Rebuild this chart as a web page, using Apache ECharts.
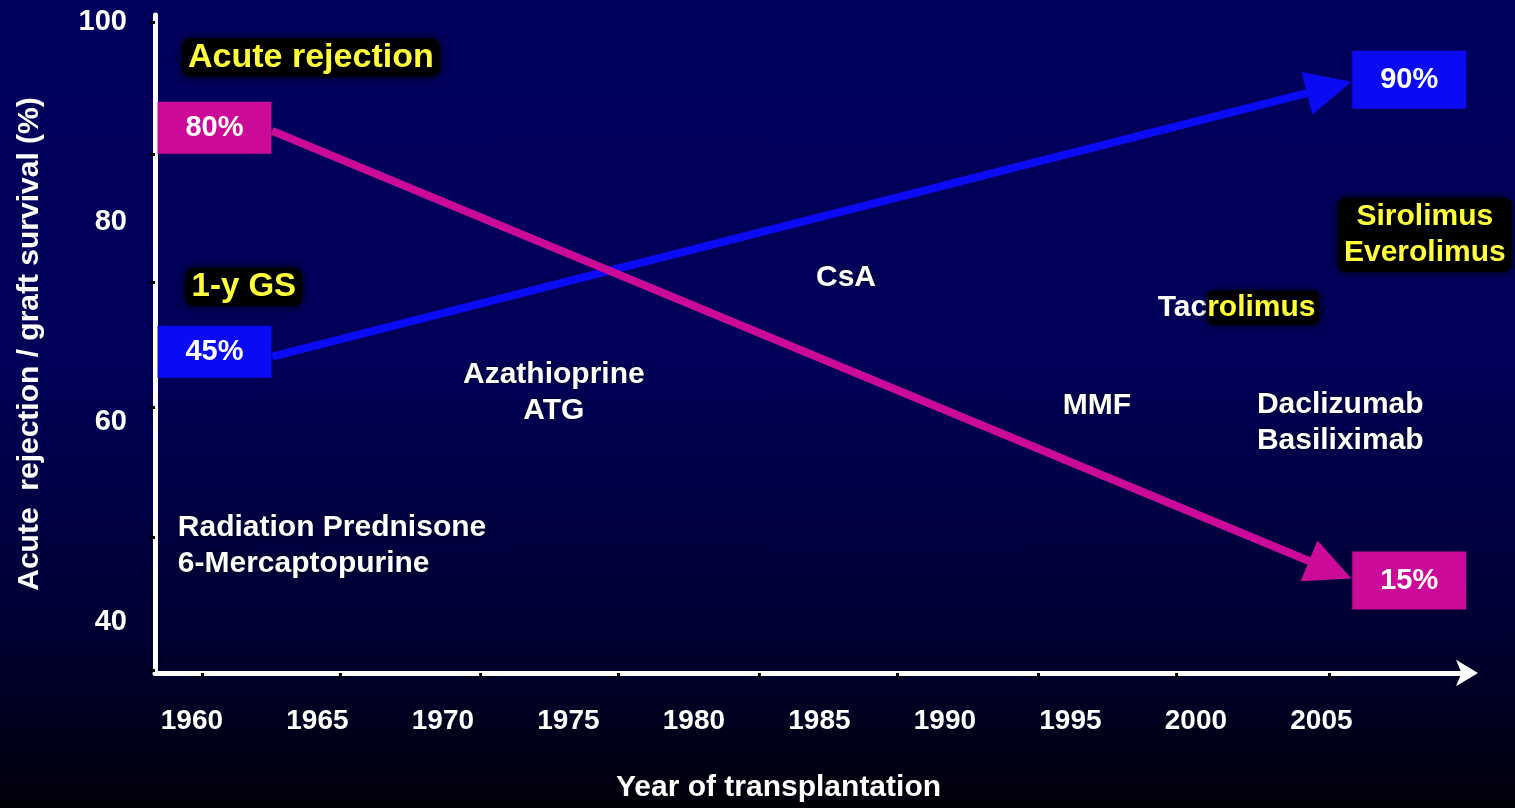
<!DOCTYPE html>
<html>
<head>
<meta charset="utf-8">
<title>Acute rejection / graft survival</title>
<script src="https://cdn.jsdelivr.net/npm/echarts@6/dist/echarts.min.js"></script>
<style>
  html, body { margin: 0; padding: 0; }
  body {
    width: 1515px; height: 808px; overflow: hidden;
    background: linear-gradient(to bottom, #00005e 0%, #000058 45%, #000030 80%, #00000a 100%);
  }
  #main { width: 1515px; height: 808px; }
</style>
</head>
<body>
<div id="main"></div>
<script>
// axis labels / ticks
var yearLabels = [1960, 1965, 1970, 1975, 1980, 1985, 1990, 1995, 2000, 2005];
var yearTicks = [1960.4, 1965.9, 1971.5, 1977.0, 1982.6, 1988.1, 1993.7, 1999.2, 2005.3];
var valueLabels = [40, 60, 80, 100];
var valueTicks = [35.1, 48.4, 61.4, 73.9, 86.8, 100];

// trend arrows: [fromYear, fromValue, toYear, toValue]
var rejectionArrow = [1963.2, 89.1, 2006.2, 44.3];
var survivalArrow = [1963.2, 66.5, 2006.2, 94.0];

// value boxes at both ends
var boxNames = ['80%', '45%', '90%', '15%'];
var boxYears = [1960.9, 1960.9, 2008.5, 2008.5];
var boxValues = [89.4, 67.0, 94.2, 44.1];
var boxColors = ['#cc0a99', '#0a0af5', '#0a0af5', '#cc0a99'];
var boxHeights = [52, 52, 58, 58];

// drug annotations
var drugNames = ['Radiation Prednisone\n6-Mercaptopurine', 'Azathioprine\nATG', 'CsA', 'MMF',
  'Daclizumab\nBasiliximab'];
var drugYears = [1959.44, 1974.42, 1986.06, 1996.06, 2002.43];
var drugValues = [47.6, 62.9, 74.4, 61.6, 59.85];
var drugAlign = ['left', 'center', 'center', 'center', 'left'];

// yellow highlighted titles
var hlNames = ['Acute rejection', '1-y GS', 'Sirolimus\nEverolimus'];
var hlYears = [1964.74, 1962.07, 2009.12];
var hlValues = [96.44, 73.47, 78.7];
var hlSizes = [34, 33, 30];

var tacYear = 2001.7, tacValue = 71.4;

var FONT = '"Liberation Sans", Arial, sans-serif';

var myChart = echarts.init(document.getElementById('main'));

function arrowItem(params, api) {
  var p0 = api.coord([api.value(0), api.value(1)]);
  var p1 = api.coord([api.value(2), api.value(3)]);
  var dx = p1[0] - p0[0], dy = p1[1] - p0[1];
  var len = Math.sqrt(dx * dx + dy * dy);
  var ux = dx / len, uy = dy / len;
  var headLen = 46, headW = 44;
  var bx = p1[0] - ux * headLen, by = p1[1] - uy * headLen;
  var color = api.visual('color');
  return {
    type: 'group',
    children: [
      {
        type: 'line',
        shape: { x1: p0[0], y1: p0[1], x2: bx + ux * 4, y2: by + uy * 4 },
        style: { stroke: color, lineWidth: 8 }
      },
      {
        type: 'polygon',
        shape: {
          points: [
            [p1[0], p1[1]],
            [bx - uy * headW / 2, by + ux * headW / 2],
            [bx + uy * headW / 2, by - ux * headW / 2]
          ]
        },
        style: { fill: color }
      }
    ]
  };
}

var boxData = boxNames.map(function (n, i) {
  return {
    name: n,
    value: [boxYears[i], boxValues[i]],
    symbolSize: [114, boxHeights[i]],
    itemStyle: { color: boxColors[i], opacity: 1 }
  };
});

var drugData = drugNames.map(function (n, i) {
  var left = drugAlign[i] === 'left';
  return {
    name: n,
    value: [drugYears[i], drugValues[i]],
    label: { position: left ? 'right' : 'inside', distance: 0, align: drugAlign[i] }
  };
});

var hlData = hlNames.map(function (n, i) {
  return { name: n, value: [hlYears[i], hlValues[i]], label: { fontSize: hlSizes[i] } };
});

var option = {
  backgroundColor: 'transparent',
  textStyle: { fontFamily: FONT },
  grid: { left: 155, right: 45, top: 15, bottom: 128 },
  xAxis: {
    type: 'value',
    min: 1958.53,
    max: 2010.92,
    name: 'Year of transplantation',
    nameLocation: 'middle',
    nameGap: 100,
    nameTextStyle: { color: '#fff', fontSize: 30, fontWeight: 'bold', fontFamily: FONT, padding: [0, 68, 0, 0] },
    axisLine: {
      show: true,
      symbol: ['none', 'arrow'],
      symbolSize: [20, 22],
      symbolOffset: [0, 8],
      lineStyle: { color: '#ffffff', width: 5 }
    },
    axisTick: { show: true, customValues: yearTicks, length: 6, lineStyle: { color: '#000', width: 3 } },
    axisLabel: {
      customValues: yearLabels,
      formatter: function (v) { return String(v); },
      margin: 34,
      color: '#fff',
      fontSize: 28,
      fontWeight: 'bold',
      fontFamily: FONT
    },
    splitLine: { show: false }
  },
  yAxis: {
    type: 'value',
    min: 34.85,
    max: 100.69,
    name: 'Acute  rejection / graft survival (%)',
    nameLocation: 'middle',
    nameGap: 110,
    nameRotate: 90,
    nameTextStyle: { color: '#fff', fontSize: 30, fontWeight: 'bold', fontFamily: FONT },
    axisLine: { show: true, lineStyle: { color: '#ffffff', width: 5 } },
    axisTick: { show: true, customValues: valueTicks, length: 6, lineStyle: { color: '#000', width: 3 } },
    axisLabel: {
      customValues: valueLabels,
      margin: 28,
      color: '#fff',
      fontSize: 29,
      fontWeight: 'bold',
      fontFamily: FONT
    },
    splitLine: { show: false }
  },
  series: [
    {
      name: 'Acute rejection',
      type: 'custom',
      renderItem: arrowItem,
      itemStyle: { color: '#cc0a99' },
      data: [rejectionArrow],
      z: 3
    },
    {
      name: '1-y GS',
      type: 'custom',
      renderItem: arrowItem,
      itemStyle: { color: '#0a0af5' },
      data: [survivalArrow],
      z: 2
    },
    {
      name: 'boxes',
      type: 'scatter',
      symbol: 'rect',
      data: boxData,
      z: 5,
      itemStyle: { opacity: 1 },
      label: {
        show: true,
        position: 'inside',
        formatter: '{b}',
        color: '#fff',
        fontSize: 29,
        fontWeight: 'bold',
        fontFamily: FONT
      }
    },
    {
      name: 'drugs',
      type: 'scatter',
      symbolSize: 0,
      data: drugData,
      z: 6,
      itemStyle: { opacity: 1 },
      label: {
        show: true,
        formatter: '{b}',
        color: '#fff',
        fontSize: 30,
        lineHeight: 36,
        fontWeight: 'bold',
        fontFamily: FONT,
        textShadowColor: 'rgba(0,0,0,0.8)',
        textShadowBlur: 3
      }
    },
    {
      name: 'highlights',
      type: 'scatter',
      symbolSize: 0,
      data: hlData,
      z: 6,
      itemStyle: { opacity: 1 },
      label: {
        show: true,
        position: 'inside',
        formatter: '{b}',
        color: '#ffff3c',
        fontWeight: 'bold',
        fontFamily: FONT,
        lineHeight: 36,
        backgroundColor: '#000',
        borderRadius: 8,
        padding: [1, 6],
        shadowColor: '#000',
        shadowBlur: 8
      }
    },
    {
      name: 'tacrolimus',
      type: 'scatter',
      symbolSize: 0,
      data: [{ name: 'Tacrolimus', value: [tacYear, tacValue] }],
      z: 6,
      itemStyle: { opacity: 1 },
      label: {
        show: true,
        position: 'inside',
        formatter: '{w|Tac}{y|rolimus}',
        fontFamily: FONT,
        rich: {
          w: { color: '#fff', fontSize: 30, fontWeight: 'bold', fontFamily: FONT, padding: [2, 0] },
          y: {
            color: '#ffff3c', fontSize: 30, fontWeight: 'bold', fontFamily: FONT,
            backgroundColor: '#000', borderRadius: 6, padding: [2, 4, 2, 0],
            shadowColor: '#000', shadowBlur: 6
          }
        }
      }
    }
  ]
};

myChart.setOption(option);
</script>
</body>
</html>
